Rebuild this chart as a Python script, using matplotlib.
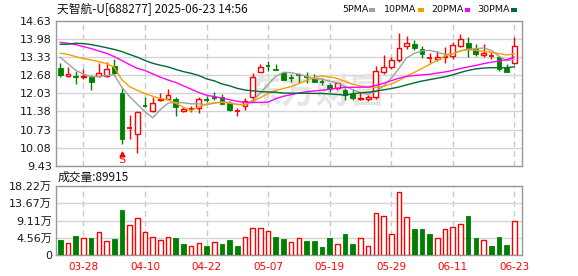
import matplotlib
matplotlib.use('Agg')
import matplotlib.pyplot as plt
import numpy as np
import pandas as pd
from matplotlib.patches import Rectangle

# ---------------- data ----------------
dates = ['03-25', '03-26', '03-27', '03-28', '03-31', '04-01', '04-02', '04-03', '04-07', '04-08',
         '04-09', '04-10', '04-11', '04-14', '04-15', '04-16', '04-17', '04-18', '04-21', '04-22',
         '04-23', '04-24', '04-25', '04-28', '04-29', '04-30', '05-06', '05-07', '05-08', '05-09',
         '05-12', '05-13', '05-14', '05-15', '05-16', '05-19', '05-20', '05-21', '05-22', '05-23',
         '05-26', '05-27', '05-28', '05-29', '05-30', '06-03', '06-04', '06-05', '06-06', '06-09',
         '06-10', '06-11', '06-12', '06-13', '06-16', '06-17', '06-18', '06-19', '06-20', '06-23']
opens = [12.93, 12.64, 12.66, 12.60, 12.66, 12.67, 12.66, 13.02, 12.06, 10.77,
         10.56, 11.58, 11.41, 11.79, 11.84, 11.82, 11.40, 11.45, 11.49, 11.82,
         11.87, 11.89, 11.67, 11.39, 11.58, 11.89, 12.80, 13.02, 12.92, 12.75,
         12.58, 12.71, 12.63, 12.54, 12.44, 12.33, 12.21, 12.14, 12.01, 11.84,
         11.83, 11.91, 12.78, 12.97, 13.23, 13.73, 13.80, 13.61, 13.29, 13.26,
         13.33, 13.39, 13.73, 13.83, 13.61, 13.42, 13.36, 13.33, 12.93, 13.11]
highs = [13.13, 12.99, 12.83, 12.89, 12.68, 13.11, 13.16, 13.25, 12.21, 11.25,
         11.41, 11.89, 11.89, 12.06, 12.19, 11.91, 11.53, 11.58, 11.91, 11.93,
         12.07, 12.00, 11.76, 11.52, 11.85, 12.75, 13.09, 13.18, 13.09, 12.81,
         12.71, 12.75, 12.81, 12.73, 12.57, 12.39, 12.45, 12.21, 12.18, 12.09,
         11.97, 13.03, 13.41, 13.35, 14.21, 14.09, 13.95, 13.73, 13.47, 13.54,
         13.68, 13.86, 14.16, 14.07, 13.80, 13.81, 13.53, 13.38, 13.09, 14.05]
lows = [12.63, 12.63, 12.36, 12.55, 12.15, 12.61, 12.63, 12.69, 10.20, 10.38,
        9.90, 11.53, 11.37, 11.76, 11.84, 11.23, 11.37, 11.35, 11.34, 11.71,
        11.79, 11.64, 11.41, 11.23, 11.44, 11.71, 12.78, 12.85, 12.86, 12.50,
        12.45, 12.39, 12.41, 12.43, 12.33, 12.08, 12.15, 11.79, 11.79, 11.79,
        11.77, 11.83, 12.72, 12.89, 13.17, 13.61, 13.59, 13.29, 13.11, 13.21,
        13.13, 13.25, 13.68, 13.35, 13.37, 13.35, 13.26, 12.84, 12.78, 13.07]
closes = [12.69, 12.73, 12.62, 12.64, 12.45, 12.75, 12.90, 12.75, 10.38, 10.80,
          11.37, 11.55, 11.67, 11.83, 11.96, 11.53, 11.47, 11.48, 11.82, 11.79,
          11.84, 11.65, 11.43, 11.42, 11.77, 12.61, 12.97, 12.99, 12.86, 12.50,
          12.55, 12.69, 12.61, 12.44, 12.42, 12.17, 12.39, 11.98, 11.86, 11.88,
          11.91, 12.85, 12.97, 13.23, 13.65, 13.83, 13.65, 13.43, 13.31, 13.35,
          13.38, 13.78, 13.97, 13.61, 13.44, 13.49, 13.38, 12.89, 12.81, 13.73]
# volume in 万 shares
vols = [3.89, 3.01, 4.96, 4.34, 4.42, 5.93, 3.54, 4.16, 11.86, 7.79,
        9.65, 5.93, 4.60, 3.81, 4.60, 4.42, 2.83, 2.21, 3.01, 2.30,
        3.27, 2.83, 3.89, 2.30, 4.60, 6.99, 6.99, 6.19, 4.69, 4.16,
        3.27, 4.34, 3.63, 3.63, 2.04, 4.42, 2.74, 5.49, 2.83, 4.34,
        2.21, 11.24, 10.18, 5.40, 16.81, 9.91, 6.81, 6.81, 5.49, 4.34,
        6.73, 7.26, 8.05, 10.27, 4.42, 3.81, 2.30, 4.69, 2.57, 8.99]
ma5_early = [13.32, 13.09, 12.86, 12.72]
ma10_early = [13.47, 13.43, 13.35, 13.28, 13.23, 13.17, 13.10, 12.97, 12.52]
ma20_early = [13.86, 13.83, 13.78, 13.71, 13.64, 13.55, 13.47, 13.35, 13.21, 13.06,
              12.93, 12.85, 12.73, 12.61, 12.51, 12.42, 12.30, 12.18, 12.06]
ma30_early = [13.79, 13.80, 13.83, 13.82, 13.78, 13.73, 13.67, 13.61, 13.53, 13.43,
              13.33, 13.21, 13.11, 13.04, 12.98, 12.89, 12.81, 12.75, 12.67, 12.55,
              12.48, 12.37, 12.30, 12.21, 12.15, 12.12, 12.09, 12.08, 12.07]
price_ticks = [9.43, 10.08, 10.73, 11.38, 12.03, 12.68, 13.33, 13.98, 14.63]
vol_ticks = [0, 4.555, 9.11, 13.665, 18.22]
vol_tick_labels = ['0', '4.56万', '9.11万', '13.67万', '18.22万']
date_ticks = ['03-28', '04-10', '04-22', '05-07', '05-19', '05-29', '06-11', '06-23']
title = '天智航-U[688277] 2025-06-23 14:56'
vol_title = '成交量:89915'
legend_names = ['5PMA', '10PMA', '20PMA', '30PMA']
signal_label = 'S'
signal_date = '04-07'
watermark = '东方财富'

# ---------------- styles ----------------
RED = '#ff0000'
GREEN = '#008000'
MA_COLORS = ['#a0a0a0', '#f5a000', '#ff00ff', '#006a30']
GRID = '#d4d4d4'
SPINE = '#999999'
CJK = ['Noto Sans CJK SC', 'DejaVu Sans']
NUM = ['DejaVu Sans', 'Noto Sans CJK SC']

W, H = 578, 276
fig = plt.figure(figsize=(W / 100, H / 100), dpi=100)
fig.patch.set_facecolor('white')

def fx(px):
    return px / W

def fy(py):
    return 1 - py / H

L, R = 56, 522
ax = fig.add_axes([fx(L), fy(165.7), fx(R) - fx(L), fy(21) - fy(165.7)])
axv = fig.add_axes([fx(L), fy(254.7), fx(R) - fx(L), fy(186.3) - fy(254.7)])

n = len(dates)
x = np.arange(n)
o = np.array(opens); h = np.array(highs); l = np.array(lows); c = np.array(closes)

def ma(vals, k, early):
    s = pd.Series(vals).rolling(k).mean().to_numpy()
    s[:k - 1] = early
    return s

mas = [ma(closes, 5, ma5_early), ma(closes, 10, ma10_early),
       ma(closes, 20, ma20_early), ma(closes, 30, ma30_early)]

xlim = (-0.565, 60.0)
tick_idx = [dates.index(d) for d in date_ticks]

for a in (ax, axv):
    a.set_xlim(*xlim)
    a.set_facecolor('white')
    for s in a.spines.values():
        s.set_color(SPINE)
        s.set_linewidth(1)
    a.tick_params(length=0)
    for ti in tick_idx:
        a.axvline(ti, color='#c8c8c8', lw=1, ls=(0, (4, 3)), zorder=0.5)

# main price panel
ax.set_ylim(price_ticks[0], price_ticks[-1])
ax.set_yticks(price_ticks)
ax.set_yticklabels([f'{t:.2f}' for t in price_ticks], fontsize=8, color='#1a1a1a', family=NUM)
ax.tick_params(axis='y', pad=3)
ax.set_xticks([])
ax.grid(axis='y', color=GRID, lw=1, zorder=0.4)
ax.set_axisbelow(True)

ax.text(33.3, 12.08, watermark, fontsize=25, fontweight='bold', color='#e6e6e6',
        family=CJK, ha='center', va='center', zorder=0.6)

bw = 0.62
for i in range(n):
    up = c[i] >= o[i]
    col = RED if up else GREEN
    top, bot = max(o[i], c[i]), min(o[i], c[i])
    if up:
        ax.vlines(i, top, h[i], color=col, lw=1, zorder=2)
        ax.vlines(i, l[i], bot, color=col, lw=1, zorder=2)
        if top - bot < 0.04:
            ax.hlines((top + bot) / 2, i - bw / 2, i + bw / 2, color=col, lw=1.3, zorder=3)
        else:
            ax.add_patch(Rectangle((i - bw / 2, bot), bw, top - bot, facecolor='white',
                                   edgecolor=col, lw=1, zorder=3))
    else:
        ax.vlines(i, l[i], h[i], color=col, lw=1, zorder=2)
        if top - bot < 0.04:
            ax.hlines((top + bot) / 2, i - bw / 2, i + bw / 2, color=col, lw=1.3, zorder=3)
        else:
            ax.add_patch(Rectangle((i - bw / 2, bot), bw, top - bot, facecolor=col,
                                   edgecolor=col, lw=0.6, zorder=3))

for m, colr in zip(mas, MA_COLORS):
    ax.plot(x, m, color=colr, lw=1, zorder=4)

si = dates.index(signal_date)
ax.plot([si], [9.86], marker='^', ms=3.5, color=RED, mec=RED, zorder=5)
ax.text(si, 9.62, signal_label, fontsize=8, color=RED, ha='center', va='center', zorder=5)

# volume panel
axv.set_ylim(0, vol_ticks[-1])
axv.set_yticks(vol_ticks)
axv.set_yticklabels(vol_tick_labels, fontsize=8, color='#1a1a1a', family=NUM)
axv.tick_params(axis='y', pad=3)
axv.grid(axis='y', color=GRID, lw=1, zorder=0.4)
axv.set_axisbelow(True)
axv.set_xticks(tick_idx)
axv.set_xticklabels(date_ticks, fontsize=7.5, color=RED, family=NUM)
axv.tick_params(axis='x', pad=5)

vw = 0.6
for i in range(n):
    ref = c[i - 1] if i > 0 else o[i]
    up = c[i] >= ref
    if up:
        axv.add_patch(Rectangle((i - vw / 2, 0), vw, vols[i], facecolor='white',
                                edgecolor=RED, lw=1, zorder=3))
    else:
        axv.add_patch(Rectangle((i - vw / 2, 0), vw, vols[i], facecolor=GREEN,
                                edgecolor=GREEN, lw=0.6, zorder=3))

# header texts
fig.text(fx(57), fy(10), title, fontsize=8.5, family=CJK, color='#111111', va='center', ha='left')
fig.text(fx(58), fy(177), vol_title, fontsize=8.5, family=CJK, color='#111111', va='center', ha='left')

leg_x = [342.5, 384, 431, 477.5]
sq_x = [369, 418, 464.5, 511]
for name, lx, sx, colr in zip(legend_names, leg_x, sq_x, MA_COLORS):
    fig.text(fx(lx), fy(10), name, fontsize=6.8, family=NUM, color='#111111', va='center', ha='left')
    fig.add_artist(Rectangle((fx(sx), fy(11.5)), fx(5.5), 3 / H, transform=fig.transFigure,
                             facecolor=colr, edgecolor='none'))

fig.savefig('out.png', dpi=100, facecolor='white')
